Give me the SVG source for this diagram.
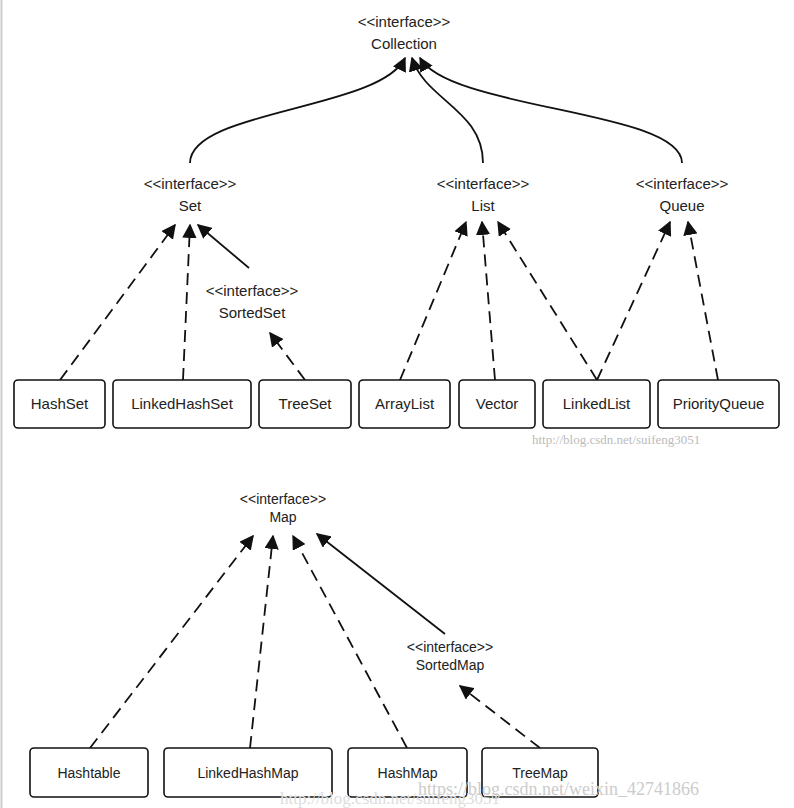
<svg xmlns="http://www.w3.org/2000/svg" width="794" height="808" viewBox="0 0 794 808">
<style>
.t{font-family:"Liberation Sans",Arial,sans-serif;font-size:15px;fill:#222;text-anchor:middle}
.m{font-family:"Liberation Sans",Arial,sans-serif;font-size:14px;fill:#222;text-anchor:middle}
.b{fill:#fff;stroke:#111;stroke-width:1.6}
.l{fill:none;stroke:#111;stroke-width:1.8}
.d{fill:none;stroke:#111;stroke-width:1.8;stroke-dasharray:12,7}
.w{font-family:"Liberation Serif",serif;font-size:13px;fill:#bbb}
</style>
<defs><marker id="a" viewBox="0 0 10 10" refX="9" refY="5" markerWidth="8" markerHeight="8" orient="auto"><path d="M0,0L10,5L0,10z" fill="#111"/></marker></defs>
<rect width="794" height="808" fill="#fff"/>
<line x1="1.5" y1="0" x2="1.5" y2="808" stroke="#ccc" stroke-width="2"/>
<g id="connectors">
<path class="l" marker-end="url(#a)" d="M190,163 C190,110 380,110 405,58"/>
<path class="l" marker-end="url(#a)" d="M483,163 C483,110 425,100 412,58"/>
<path class="l" marker-end="url(#a)" d="M682,163 C682,110 450,110 420,58"/>
<path class="d" marker-end="url(#a)" d="M60,380 L175,225"/>
<path class="d" marker-end="url(#a)" d="M183,380 L190,225"/>
<path class="l" marker-end="url(#a)" d="M249,268 L198,225"/>
<path class="d" marker-end="url(#a)" d="M305,380 L270,333"/>
<path class="d" marker-end="url(#a)" d="M400,380 L466,222"/>
<path class="d" marker-end="url(#a)" d="M495,380 L482,222"/>
<path class="d" marker-end="url(#a)" d="M597,380 L498,222"/>
<path class="d" marker-end="url(#a)" d="M597,380 L670,222"/>
<path class="d" marker-end="url(#a)" d="M718,380 L688,222"/>
<path class="d" marker-end="url(#a)" d="M90,748 L253,536"/>
<path class="d" marker-end="url(#a)" d="M250,748 L273,536"/>
<path class="d" marker-end="url(#a)" d="M407,748 L293,536"/>
<path class="l" marker-end="url(#a)" d="M445,634 L317,534"/>
<path class="d" marker-end="url(#a)" d="M540,748 L460,686"/>
</g>
<g id="Collection"><text class="t" x="404" y="27">&lt;&lt;interface&gt;&gt;</text><text class="t" x="404" y="49">Collection</text></g>
<g id="Set"><text class="t" x="190" y="189">&lt;&lt;interface&gt;&gt;</text><text class="t" x="190" y="211">Set</text></g>
<g id="List"><text class="t" x="483" y="189">&lt;&lt;interface&gt;&gt;</text><text class="t" x="483" y="211">List</text></g>
<g id="Queue"><text class="t" x="682" y="189">&lt;&lt;interface&gt;&gt;</text><text class="t" x="682" y="211">Queue</text></g>
<g id="SortedSet"><text class="t" x="252" y="296">&lt;&lt;interface&gt;&gt;</text><text class="t" x="252" y="318">SortedSet</text></g>
<g id="HashSet"><rect class="b" x="14" y="380" width="91" height="48" rx="4"/><text class="t" x="59.5" y="409">HashSet</text></g>
<g id="LinkedHashSet"><rect class="b" x="113" y="380" width="138" height="48" rx="4"/><text class="t" x="182" y="409">LinkedHashSet</text></g>
<g id="TreeSet"><rect class="b" x="259" y="380" width="92" height="48" rx="4"/><text class="t" x="305" y="409">TreeSet</text></g>
<g id="ArrayList"><rect class="b" x="359" y="380" width="91" height="48" rx="4"/><text class="t" x="404.5" y="409">ArrayList</text></g>
<g id="Vector"><rect class="b" x="459" y="380" width="76" height="48" rx="4"/><text class="t" x="497" y="409">Vector</text></g>
<g id="LinkedList"><rect class="b" x="543" y="380" width="107" height="48" rx="4"/><text class="t" x="596.5" y="409">LinkedList</text></g>
<g id="PriorityQueue"><rect class="b" x="658" y="380" width="121" height="48" rx="4"/><text class="t" x="718.5" y="409">PriorityQueue</text></g>
<text class="w" x="532" y="444">http://blog.csdn.net/suifeng3051</text>
<g id="Map"><text class="m" x="283" y="504">&lt;&lt;interface&gt;&gt;</text><text class="m" x="283" y="522">Map</text></g>
<g id="SortedMap"><text class="m" x="450" y="652">&lt;&lt;interface&gt;&gt;</text><text class="m" x="450" y="670">SortedMap</text></g>
<g id="Hashtable"><rect class="b" x="30" y="748" width="118" height="49" rx="4"/><text class="m" x="89" y="778">Hashtable</text></g>
<g id="LinkedHashMap"><rect class="b" x="164" y="748" width="168" height="49" rx="4"/><text class="m" x="248" y="778">LinkedHashMap</text></g>
<g id="HashMap"><rect class="b" x="348" y="748" width="119" height="49" rx="4"/><text class="m" x="407.5" y="778">HashMap</text></g>
<g id="TreeMap"><rect class="b" x="482" y="748" width="116" height="49" rx="4"/><text class="m" x="540" y="778">TreeMap</text></g>
<text class="w" x="280" y="804" style="font-size:17px;fill:#ddd">http://blog.csdn.net/suifeng3051</text>
<text class="w" x="418" y="795" style="font-size:18px;fill:#ccc">https://blog.csdn.net/weixin_42741866</text>
</svg>
